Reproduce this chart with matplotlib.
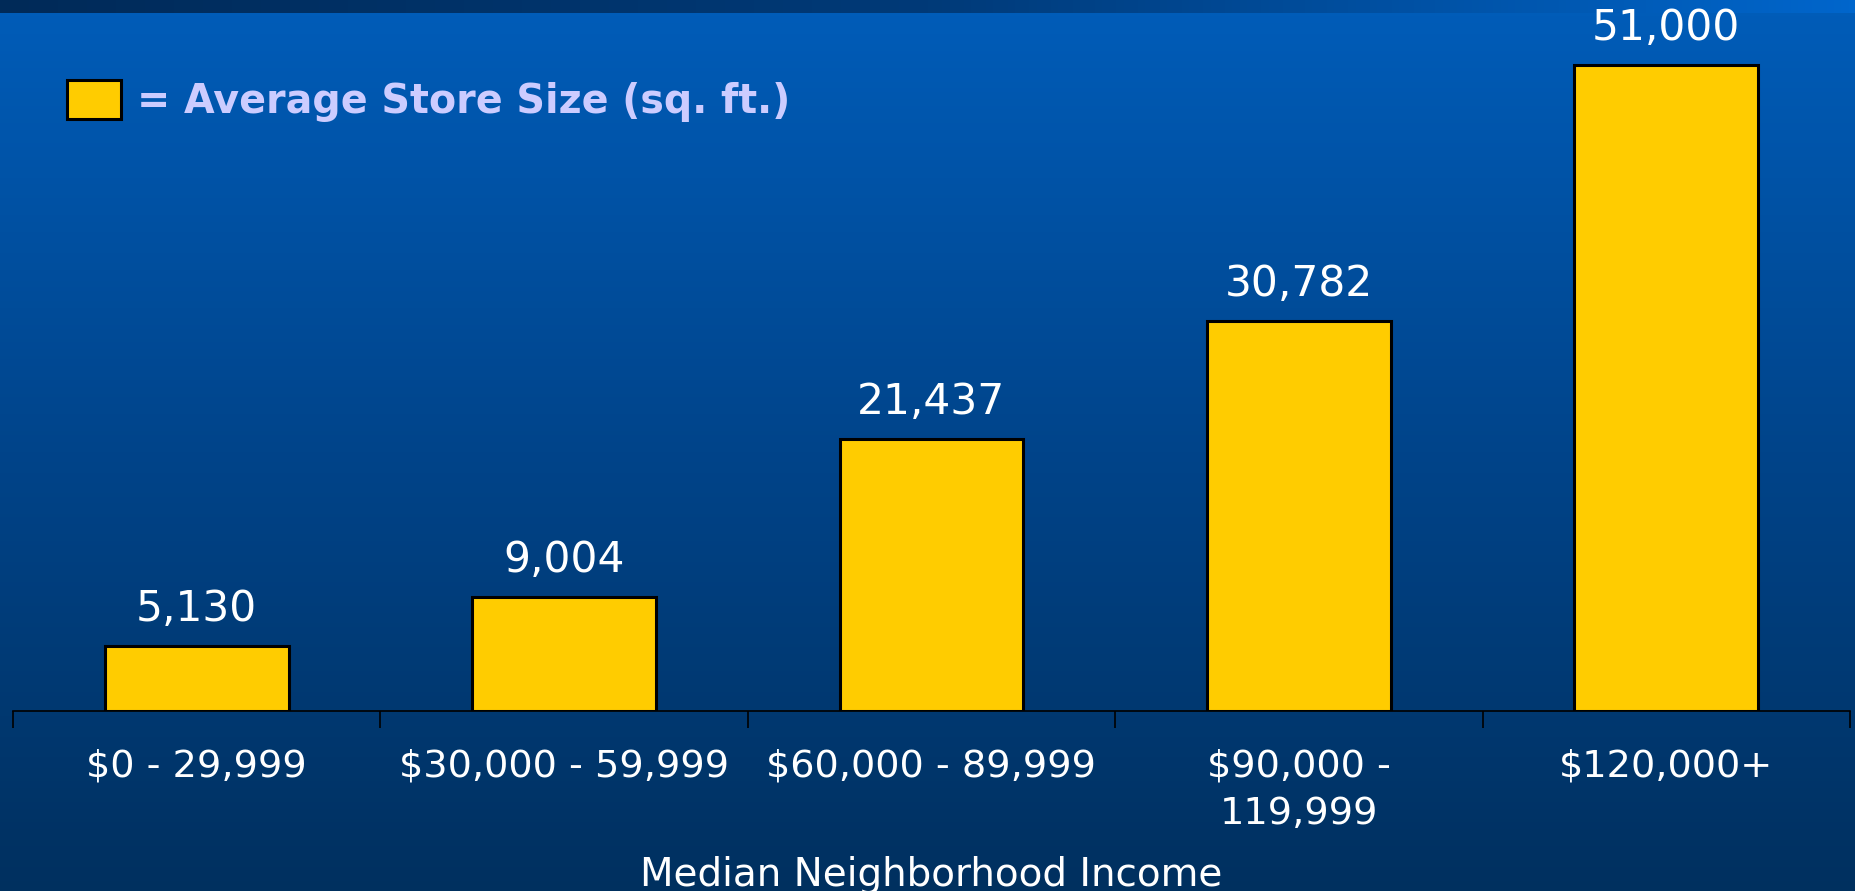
import numpy as np
import matplotlib
matplotlib.use("Agg")
import matplotlib.pyplot as plt
from matplotlib.colors import LinearSegmentedColormap
from matplotlib.patches import Patch

# ---- data ----
categories = ["$0 - 29,999", "$30,000 - 59,999", "$60,000 - 89,999",
              "$90,000 -\n119,999", "$120,000+"]
values = [5130, 9004, 21437, 30782, 51000]
value_labels = ["5,130", "9,004", "21,437", "30,782", "51,000"]
x_title = "Median Neighborhood Income"
legend_label = "= Average Store Size (sq. ft.)"

W, H = 1856, 891
plt.rcParams['font.family'] = ['DejaVu Sans']
fig = plt.figure(figsize=(W / 100, H / 100), dpi=100)

# ---- background ----
bg = fig.add_axes([0, 0, 1, 1])
bg.set_axis_off()
bg.set_xlim(0, 1)
bg.set_ylim(0, 1)
strip = 13 / H
vgrad = np.linspace(0, 1, 256).reshape(-1, 1)
cm_body = LinearSegmentedColormap.from_list('body', ['#005CB8', '#00448A', '#00305F'])
bg.imshow(vgrad, aspect='auto', cmap=cm_body, extent=[0, 1, 0, 1 - strip],
          origin='upper', zorder=0)
hgrad = np.linspace(0, 1, 256).reshape(1, -1)
cm_strip = LinearSegmentedColormap.from_list('strip', ['#002A58', '#003A78', '#0066CC'])
bg.imshow(hgrad, aspect='auto', cmap=cm_strip, extent=[0, 1, 1 - strip, 1],
          origin='upper', zorder=0)

# ---- main axes ----
base_px, top_px, left_px, right_px = 711, 13, 13, 1850
ax = fig.add_axes([left_px / W, (H - base_px) / H,
                   (right_px - left_px) / W, (base_px - top_px) / H])
ax.patch.set_alpha(0)
x = np.arange(len(categories))
ax.bar(x, values, width=0.5, color='#FFCC00', edgecolor='black', linewidth=2.2, zorder=3)
ax.set_xlim(-0.5, len(categories) - 0.5)
ymax = (base_px - top_px) * max(values) / (base_px - 65)
ax.set_ylim(0, ymax)

for s in ['top', 'right', 'left']:
    ax.spines[s].set_visible(False)
ax.spines['bottom'].set_color('black')
ax.spines['bottom'].set_linewidth(1.2)
ax.set_yticks([])

ax.set_xticks(np.arange(-0.5, len(categories), 1.0))
ax.set_xticklabels([])
ax.tick_params(axis='x', which='major', length=12, width=1.2, color='black', direction='out')
ax.set_xticks(x, minor=True)
ax.set_xticklabels(categories, minor=True, fontsize=27.5, color='white', linespacing=1.4)
ax.tick_params(axis='x', which='minor', length=0, pad=27)

for xi, v, lab in zip(x, values, value_labels):
    ax.annotate(lab, (xi, v), xytext=(0, 18), textcoords='offset points',
                ha='center', va='baseline', color='white', fontsize=30.5)

ax.set_xlabel(x_title, fontsize=28, color='white')
ax.xaxis.label.set_va('baseline')
ax.xaxis.set_label_coords(0.5, (base_px - 886) / (base_px - top_px))

handle = Patch(facecolor='#FFCC00', edgecolor='black', linewidth=2.2)
leg = fig.legend([handle], [legend_label], loc='center left',
                 bbox_to_anchor=(67 / W, 1 - 101 / H), frameon=False,
                 prop={'size': 28.5, 'weight': 'bold'},
                 handlelength=1.36, handleheight=1.13, handletextpad=0.4,
                 borderpad=0, borderaxespad=0)
for t in leg.get_texts():
    t.set_color('#CCCCFF')

fig.savefig('out.png', dpi=100)
